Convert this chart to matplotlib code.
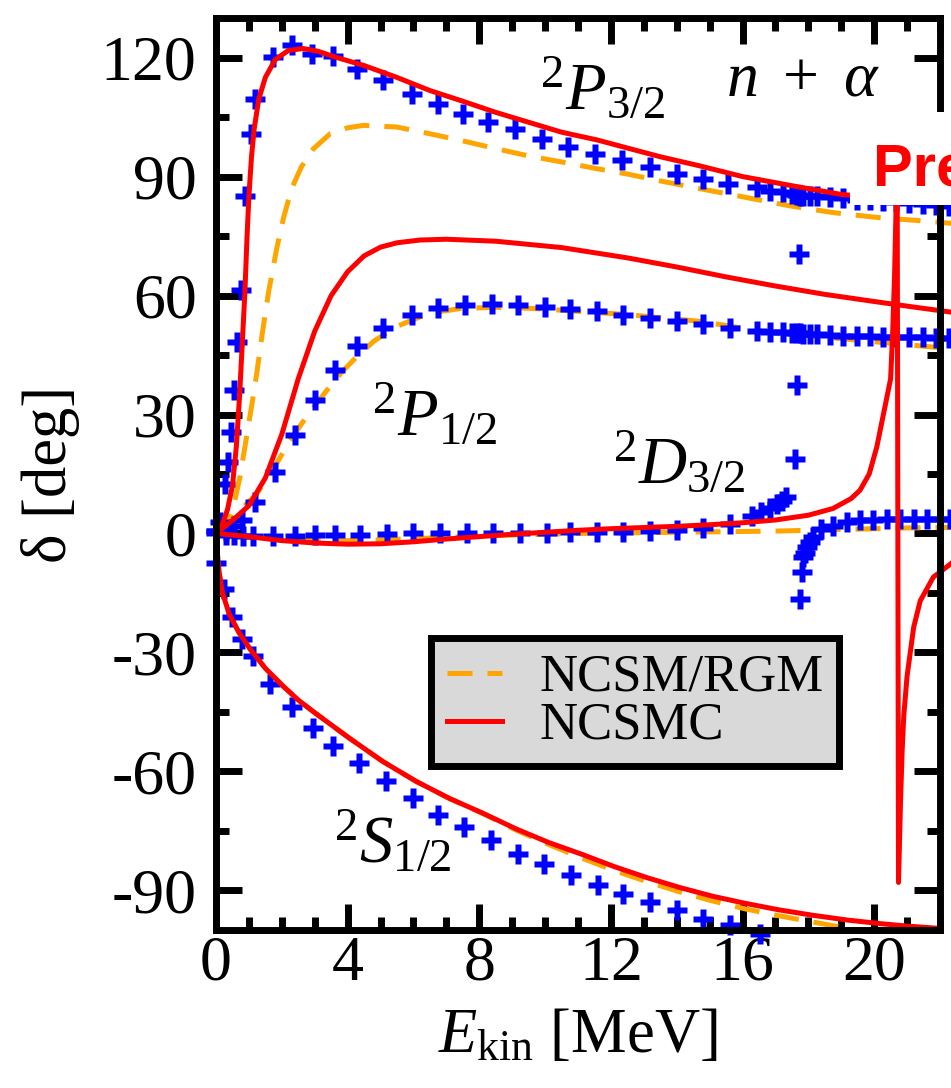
import matplotlib
matplotlib.use("Agg")
import matplotlib.pyplot as plt
from matplotlib.lines import Line2D
from matplotlib.patches import Rectangle
from matplotlib.ticker import MultipleLocator

plt.rcParams["font.family"] = ["Liberation Serif", "DejaVu Serif"]
plt.rcParams["mathtext.fontset"] = "custom"
plt.rcParams["mathtext.rm"] = "Liberation Serif"
plt.rcParams["mathtext.it"] = "Liberation Serif:italic"
plt.rcParams["mathtext.bf"] = "Liberation Serif:bold"
plt.rcParams["axes.unicode_minus"] = False

BLUE, RED, ORANGE = "#0000ff", "#ff0000", "#ffa500"

# --- phase-shift analysis (blue crosses) ---
e_p32_dat = [0.0, 0.12, 0.27, 0.37, 0.47, 0.56, 0.65, 0.76, 0.88, 1.05, 1.2, 1.72, 2.32, 2.93, 3.57,
             4.28, 5.09, 5.95, 6.76, 7.52, 8.28, 9.09, 9.9, 10.71, 11.52, 12.33, 13.19, 14.0, 14.8,
             15.56, 16.43, 16.84, 17.23, 17.5, 17.65, 17.75, 17.85, 18.05, 18.27, 18.66, 19.06,
             19.48, 19.88, 20.27, 20.67, 21.07, 21.47, 21.87, 22.27]
d_p32_dat = [0.5, 3, 12.6, 18, 25.6, 36.2, 48.4, 61.5, 85, 100.8, 109.6, 120.2, 123.1, 121, 120.3,
             117.2, 114.3, 110.9, 108.4, 105.8, 103.7, 102, 99.5, 97.4, 95.7, 94.2, 92.4, 90.6, 89.4,
             88.1, 87.3, 86.4, 86, 85.6, 85.3, 85.1, 85.1, 85.1, 85, 84.8, 84.5,
             84.2, 84, 83.8, 83.5, 83.3, 83, 82.8, 82.6]

e_p12_dat = [0.0, 0.3, 0.55, 0.8, 1.19, 1.79, 2.4, 3.0, 3.62, 4.3, 5.09, 5.95, 6.76, 7.57, 8.38,
             9.19, 10.0, 10.76, 11.57, 12.37, 13.19, 14.01, 14.8, 15.62, 16.44, 16.84, 17.23, 17.5,
             17.65, 17.75, 17.85, 18.05, 18.27, 18.66, 19.06, 19.48, 19.88, 20.27, 20.67, 21.07,
             21.47, 21.87, 22.27]
d_p12_dat = [0.5, 1, 2, 3.5, 7.9, 15.5, 24.8, 33.7, 41.3, 47.4, 51.8, 55.2, 56.9, 57.7, 57.9,
             57.7, 57.0, 56.5, 56.0, 55.2, 54.4, 53.5, 52.7, 51.8, 51.0, 50.8, 50.7, 50.6,
             50.6, 50.5, 50.4, 50.3, 50.2, 50.0, 49.9, 49.8, 49.7, 49.6, 49.6, 49.5,
             49.5, 49.4, 49.4]

e_d32_dat = [0.0, 0.3, 0.55, 0.82, 1.12, 1.73, 2.4, 3.0, 3.62, 4.38, 5.2, 5.99, 6.81, 7.63, 8.42,
             9.24, 10.06, 10.76, 11.58, 12.37, 13.19, 14.01, 14.8, 15.62, 16.3, 16.56, 16.84, 17.05,
             17.2, 17.32, 17.6, 17.65, 17.72, 17.75, 17.8, 17.85, 17.9, 17.95, 18.05, 18.15,
             18.4, 18.76, 19.17, 19.57, 19.98, 20.38, 20.79, 21.2, 21.6, 22.0, 22.3]
d_d32_dat = [0.0, -0.3, -0.5, -0.6, -0.6, -0.7, -0.6, -0.5, -0.4, -0.3, -0.2, 0.0, 0.0, 0.1, 0.1,
             0.2, 0.2, 0.3, 0.3, 0.3, 0.5, 0.8, 1.5, 2.5, 4.5, 5.4, 6.3, 7.4,
             8.2, 9.1, 18.9, 37.5, 70.4, -16.5, -9.8, -6.0, -4.8, -3.5, -2.2, -0.9,
             1.2, 2.0, 3.0, 3.3, 3.5, 3.6, 3.6, 3.6, 3.6, 3.6, 3.6]

e_s12_dat = [0.0, 0.25, 0.5, 0.8, 1.12, 1.65, 2.3, 2.95, 3.56, 4.35, 5.17, 5.99, 6.75, 7.54, 8.36,
             9.18, 9.97, 10.79, 11.61, 12.37, 13.19, 14.01, 14.8, 15.62, 16.53]
d_s12_dat = [-7.5, -14, -21, -26.5, -31, -38, -43.8, -49, -53.7, -58, -62.5, -66.8, -70.9, -73.9, -77.2,
             -80.8, -83.3, -86, -88.6, -90.9, -92.9, -94.9, -97.2, -98.7, -101]

# --- NCSMC (red) ---
e_p32_mc = [0, 0.2, 0.35, 0.5, 0.62, 0.72, 0.8, 0.88, 0.94, 1.0, 1.08, 1.16, 1.3, 1.5, 1.8, 2.2, 2.65,
            3.1, 3.6, 4.5, 5.5, 6.5, 7.5, 8.5, 9.5, 10.5, 11.6, 12.5, 13.5, 14.7, 16.0, 17.5, 19.0,
            20.5, 22.0]
d_p32_mc = [0, 2.5, 6, 12, 22, 35, 48, 61, 74, 85, 95, 102, 109.5, 115, 119.5, 121.8, 122.3,
            121.6, 120.2, 118, 115, 111.7, 109, 106.2, 103.7, 101.2, 99.2, 97.2, 95, 92.7, 90, 87.7, 85.5,
            84.4, 83.9]

e_p12_mc = [0, 0.5, 1.0, 1.5, 2.0, 2.5, 3.0, 3.5, 4.0, 4.5, 5.0, 5.5, 6.2, 7.0, 8.5, 10.5, 12.5,
            14.0, 15.5, 17.0, 18.5, 20.0, 21.2, 22.35]
d_p12_mc = [0, 3.3, 7, 14, 25, 39, 51, 60, 66, 70, 72.2, 73.3, 74, 74.2, 73.7, 72.1, 69.5,
            67.2, 64.7, 62.4, 60.3, 58.5, 57.1, 55.8]

e_d32_mc = [0, 1, 2, 3, 4, 5, 6, 7, 8, 9, 10, 11, 12, 13, 14, 15, 16, 17, 18, 18.75, 19.3, 19.57,
            19.85, 20.08, 20.33, 20.5, 20.56, 20.62, 20.66, 20.7, 20.74, 20.8, 20.85, 20.9, 21.0,
            21.2, 21.4, 21.8, 22.35]
d_d32_mc = [0, -0.8, -1.8, -2.4, -2.7, -2.6, -2.1, -1.4, -0.8, -0.2, 0.3, 0.8, 1.2, 1.5, 1.8, 2.2,
            2.7, 3.4, 4.6, 6.3, 8.8, 10.9, 15, 21.8, 32, 39, 50, 65, 80, 91, -88, -68, -55, -46, -36,
            -23.7, -17, -11, -7.5]

e_s12_mc = [0, 0.03, 0.1, 0.2, 0.4, 0.7, 1.05, 1.5, 2.04, 2.5, 3.0, 4.05, 5.07, 6.08, 7.09, 8.1,
            9.12, 10.1, 11.15, 12.1, 13.1, 14.1, 15.1, 16.1, 17.1, 18.15, 19.2, 20.2, 21.0, 22.0]
d_s12_mc = [0, -4, -10, -15, -20.3, -25, -29.3, -34, -38.5, -42, -45.2, -51.6, -57.5, -62.5, -66.8,
            -70.5, -74.5, -77.9, -81, -84, -86.8, -89.3, -91.5, -93.3, -94.9, -96.3, -97.5, -98.4,
            -99, -99.6]

# --- NCSM/RGM (orange dashed) ---
e_p32_rgm = [0, 0.3, 0.53, 0.73, 0.93, 1.1, 1.25, 1.4, 1.6, 1.85, 2.05, 2.3, 2.6, 2.96, 3.47, 4.0,
             4.48, 5.49, 6.5, 7.5, 8.53, 9.5, 10.56, 11.5, 12.53, 13.5, 14.8, 16.13, 17.45, 18.76,
             20.08, 21.5, 22.35]
d_p32_rgm = [0, 2, 6.7, 14.3, 24.4, 33, 41, 50, 61, 72, 79.5, 87, 92.5, 97, 100.8, 102.3,
             102.9, 102.5, 100.8, 99, 97, 95.2, 93.6, 92.1, 90.6, 88.9, 86.8, 84.7, 82.6, 80.9,
             79.7, 78.8, 78.2]

e_p12_rgm = [0, 0.5, 1.24, 1.8, 2.25, 2.8, 3.36, 3.8, 4.28, 4.8, 5.49, 6.5, 7.5, 8.5, 9.5, 10.5,
             12.5, 14.7, 16.74, 18.5, 19.8, 21.8, 22.35]
d_p12_rgm = [0, 4, 10, 17, 23.5, 30, 36, 40.5, 44.6, 48.5, 52.2, 55.6, 56.8, 57, 56.8, 56.3,
             55.2, 53.5, 50.8, 49.5, 48.5, 47, 46.5]

e_d32_rgm = [0, 1, 2, 3, 4, 5, 6, 7, 8, 9, 10, 11, 12, 13, 14, 15, 16, 17, 18, 19, 20, 21, 22, 22.35]
d_d32_rgm = [0, -0.8, -1.5, -1.8, -1.8, -1.6, -1.3, -1.0, -0.7, -0.4, -0.2, 0, 0.1, 0.2, 0.3, 0.4,
             0.5, 0.6, 0.8, 1.0, 1.2, 1.4, 1.5, 1.5]

e_s12_rgm = [0, 0.03, 0.1, 0.2, 0.4, 0.7, 1.05, 1.5, 2.04, 2.5, 3.0, 4.05, 5.07, 6.08, 7.09, 8.1,
             9.12, 10.1, 11.1, 12.1, 13.1, 14.1, 15.1, 16.1, 17.1, 18.15, 19.2, 19.5]
d_s12_rgm = [0, -4, -10, -15, -20.3, -25, -29.3, -34, -38.5, -42, -45.2, -51.6, -57.5, -62.5, -66.8,
             -70.6, -74.8, -78.4, -81.8, -85, -87.8, -90.4, -92.7, -94.7, -96.4, -98, -99.6, -100]

LW = 3.6
DASH = (5, 3)

fig = plt.figure(figsize=(9.51, 10.88), dpi=100)
ax = fig.add_axes([0.2271, 0.1452, 0.7613, 0.8383])

for e, d in [(e_p32_rgm, d_p32_rgm), (e_p12_rgm, d_p12_rgm),
             (e_d32_rgm, d_d32_rgm), (e_s12_rgm, d_s12_rgm)]:
    ax.plot(e, d, color=ORANGE, lw=LW, dashes=DASH, clip_on=False, zorder=2)

for e, d in [(e_p32_dat, d_p32_dat), (e_p12_dat, d_p12_dat),
             (e_d32_dat, d_d32_dat), (e_s12_dat, d_s12_dat)]:
    ax.plot(e, d, ls="none", marker="P", ms=15, mfc=BLUE, mec="none",
            clip_on=False, zorder=3)

for e, d in [(e_p32_mc, d_p32_mc), (e_p12_mc, d_p12_mc),
             (e_d32_mc, d_d32_mc), (e_s12_mc, d_s12_mc)]:
    ax.plot(e, d, color=RED, lw=LW, clip_on=False, zorder=4)

ax.set_xlim(0, 22)
ax.set_ylim(-100, 130)
ax.xaxis.set_major_locator(MultipleLocator(4))
ax.xaxis.set_minor_locator(MultipleLocator(1))
ax.set_yticks([-90, -60, -30, 0, 30, 60, 90, 120])
ax.yaxis.set_minor_locator(MultipleLocator(15))

for s in ax.spines.values():
    s.set_linewidth(5)
    s.set_zorder(5)
ax.tick_params(which="both", direction="in", top=True, right=True, width=5, labelsize=46)
ax.tick_params(which="major", length=19)
ax.tick_params(which="minor", length=9.5)
ax.tick_params(axis="x", pad=4)
ax.tick_params(axis="y", pad=14)

ax.set_ylabel("δ [deg]", fontsize=45)
ax.yaxis.set_label_coords(-0.188, 0.5)
ax.set_xlabel(r"$E_{\mathrm{kin}}$ [MeV]", fontsize=45)
ax.xaxis.set_label_coords(0.5, -0.085)

# channel labels
ax.text(9.85, 107, r"${}^{2}P_{3/2}$", fontsize=48, va="baseline", ha="left")
ax.text(15.5, 110.4, r"$n\ +\ \alpha$", fontsize=46, va="baseline", ha="left")
ax.text(4.74, 24.8, r"${}^{2}P_{1/2}$", fontsize=48, va="baseline", ha="left")
ax.text(12.07, 12.9, r"${}^{2}D_{3/2}$", fontsize=48, va="baseline", ha="left")
ax.text(3.59, -82.8, r"${}^{2}S_{1/2}$", fontsize=48, va="baseline", ha="left")

handles = [Line2D([], [], color=ORANGE, lw=LW, dashes=DASH),
           Line2D([], [], color=RED, lw=LW)]
leg = ax.legend(handles, ["NCSM/RGM", "NCSMC"], loc="upper left",
                bbox_to_anchor=(0.297, 0.320), borderaxespad=0, fontsize=38,
                frameon=True, fancybox=False, framealpha=1, facecolor="#d9d9d9",
                edgecolor="black", handlelength=1.05, handletextpad=0.7,
                borderpad=0.3, labelspacing=0.0)
leg.get_frame().set_linewidth(5)
leg.set_zorder(6)

# "Preliminary" stamp, cut off by the right edge as in the source figure
W, H = 951, 1088
fig.add_artist(Rectangle((850 / W, 1 - 205 / H), 0.2, (205 - 112) / H,
                         transform=fig.transFigure, facecolor="white",
                         edgecolor="none", zorder=10))
fig.text(873 / W, 1 - 186 / H, "Preliminary", color=RED, fontsize=43,
         fontweight="bold", family="Liberation Sans", va="baseline", ha="left",
         zorder=11)

fig.savefig("out.png", dpi=100)
